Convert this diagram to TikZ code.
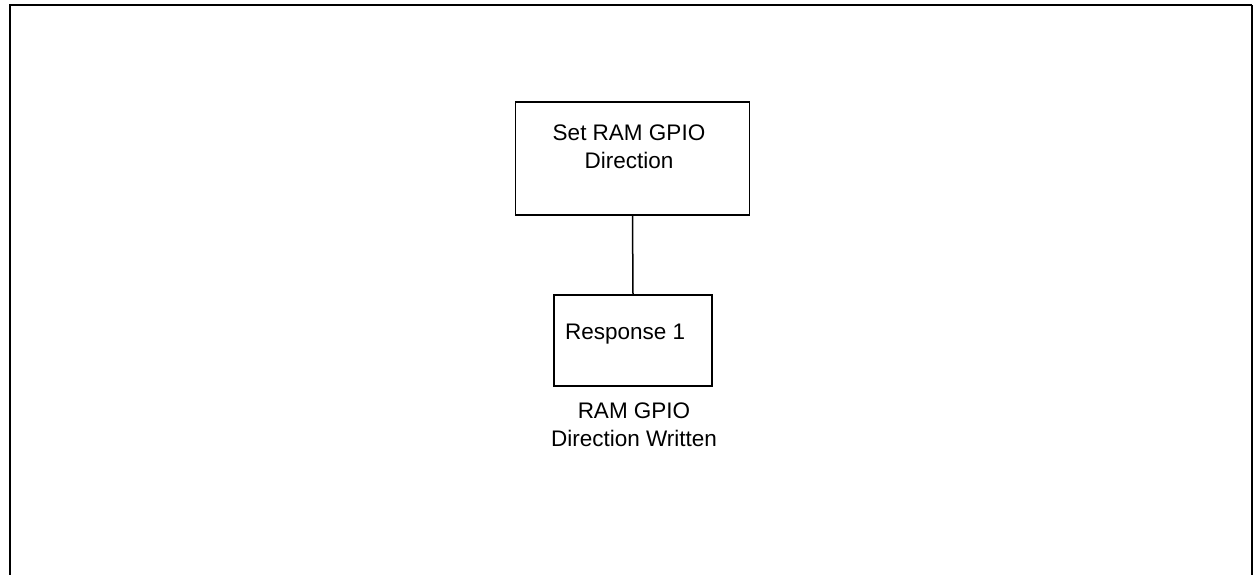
\documentclass[tikz,border=0pt]{standalone}
\usepackage{fontspec}
\setmainfont{Liberation Sans}
\begin{document}
\begin{tikzpicture}[x=1pt,y=-1pt,
  stepbox/.style={draw,line width=1.8pt,inner sep=0pt},
  lbl/.style={font=\fontsize{22.5}{28}\selectfont,align=center,inner sep=0pt},
  conn/.style={line width=1.5pt}]
\useasboundingbox (0,0) rectangle (1256,575);
% frame
\draw[line width=2.2pt] (10,577) -- (10,5) -- (1252,5);
\draw[line width=1.2pt] (1252,5) -- (1252,577);
% boxes
\node[stepbox,minimum width=234pt,minimum height=113pt] (set) at (632.5,158.5) {};
\node[lbl,anchor=base] (settxt) at (629,168) {Set RAM GPIO\\Direction};
\node[stepbox,minimum width=158pt,minimum height=91pt] (resp) at (633,340.5) {};
\node[lbl,anchor=base west] (resptxt) at (565,339) {Response 1};
\node[lbl,anchor=base] (done) at (634,446) {RAM GPIO\\Direction Written};
\draw[conn] (set.south) -- (resp.north);
\end{tikzpicture}
\end{document}
